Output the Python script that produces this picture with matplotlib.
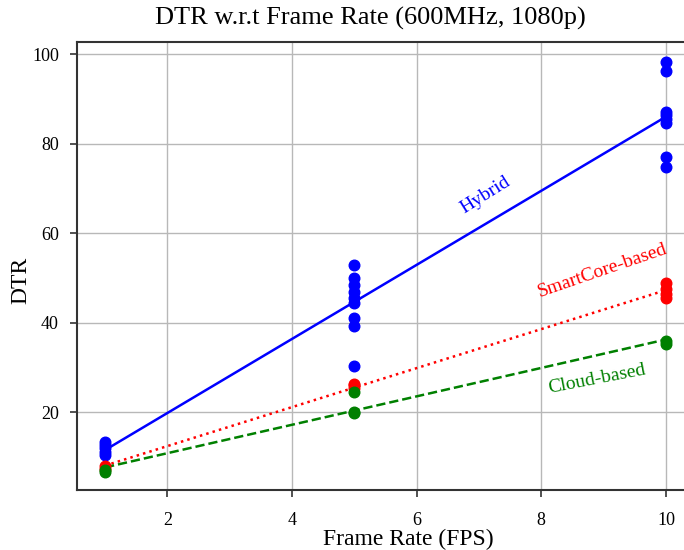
"""DTR versus frame rate for the three deployment modes (600MHz, 1080p)."""

import matplotlib
matplotlib.use("Agg")
import matplotlib.pyplot as plt
import numpy as np

plt.rcParams["font.family"] = ["Liberation Serif", "DejaVu Serif"]

# measured DTR values per frame rate
hybrid_fps = [1, 1, 1, 1, 1, 5, 5, 5, 5, 5, 5, 5, 5, 5, 10, 10, 10, 10, 10, 10, 10, 10]
hybrid_dtr = [10.5, 11.2, 11.9, 12.6, 13.3,
              30.3, 39.2, 41.0, 44.4, 45.5, 46.8, 48.4, 49.9, 52.8,
              74.7, 77.0, 84.6, 85.5, 86.3, 87.0, 96.3, 98.2]

smartcore_fps = [1, 1, 5, 5, 5, 10, 10, 10, 10]
smartcore_dtr = [7.4, 8.0, 25.4, 26.0, 26.3, 45.6, 46.5, 47.5, 48.9]

cloud_fps = [1, 1, 5, 5, 5, 10, 10]
cloud_dtr = [6.6, 7.0, 19.7, 20.0, 24.4, 35.3, 35.8]

series = [
    ("Hybrid", hybrid_fps, hybrid_dtr, "blue", "-", (7.1, 68.5), 32),
    ("SmartCore-based", smartcore_fps, smartcore_dtr, "red", ":", (8.98, 51.7), 19),
    ("Cloud-based", cloud_fps, cloud_dtr, "green", "--", (8.9, 27.4), 11),
]


def plot_dtr():
    """Scatter the raw points and draw a linear fit for each mode."""
    fig = plt.figure(figsize=(6.84, 5.5), dpi=100)
    ax = fig.add_axes([77 / 684, 60 / 550, 617 / 684, 448 / 550])

    for name, xs, ys, color, style, label_pos, angle in series:
        ax.scatter(xs, ys, s=58, color=color, zorder=3)
        slope, intercept = np.polyfit(xs, ys, 1)
        fit_x = np.array([min(xs), max(xs)])
        ax.plot(fit_x, slope * fit_x + intercept, color=color, linestyle=style,
                linewidth=1.8, zorder=2)
        ax.text(label_pos[0], label_pos[1], name, color=color, fontsize=14,
                rotation=angle, ha="center", va="center", rotation_mode="anchor")

    ax.set_xlim(0.55, 10.45)
    ax.set_ylim(2.6, 102.7)
    ax.set_xticks([2, 4, 6, 8, 10])
    ax.set_yticks([20, 40, 60, 80, 100])
    ax.grid(True, color="#b8b8b8", linewidth=1.0)
    ax.set_axisbelow(True)

    for spine in ax.spines.values():
        spine.set_color("#333333")
        spine.set_linewidth(1.5)
    ax.tick_params(axis="both", direction="out", length=5, width=1.2,
                   color="#333333", labelsize=13)
    ax.tick_params(axis="x", pad=11)
    ax.tick_params(axis="y", pad=8)

    ax.set_xlabel("Frame Rate (FPS)", fontsize=17)
    ax.xaxis.set_label_coords((408 - 77) / 617, -0.087)
    ax.set_ylabel("DTR", fontsize=17)
    ax.yaxis.set_label_coords(-0.074, 0.469)
    fig.text(370 / 684, 1 - 18 / 550, "DTR w.r.t Frame Rate (600MHz, 1080p)",
             fontsize=19, ha="center", va="center")
    return fig


def main():
    fig = plot_dtr()
    fig.savefig("out.png", dpi=100)
    plt.close(fig)


if __name__ == "__main__":
    main()
